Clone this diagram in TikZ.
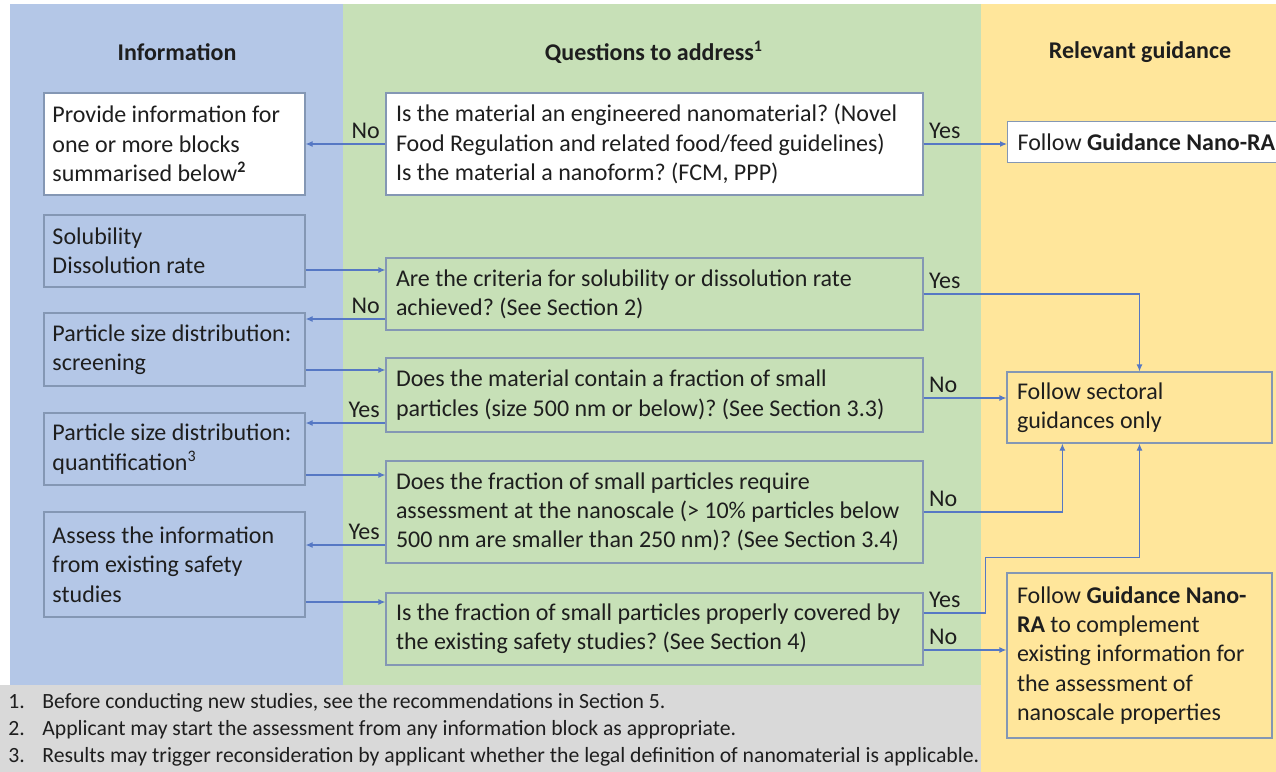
\documentclass[tikz,border=0pt]{standalone}
\usepackage{fontspec}
\setmainfont{Carlito}
\usetikzlibrary{positioning,arrows.meta}
\definecolor{infoblue}{RGB}{180,199,231}
\definecolor{askgreen}{RGB}{199,224,183}
\definecolor{guideyellow}{RGB}{255,230,155}
\definecolor{notegray}{RGB}{217,217,217}
\definecolor{boxline}{RGB}{132,151,180}
\definecolor{linkblue}{RGB}{86,120,196}
\definecolor{ink}{RGB}{30,30,30}

\begin{document}
\frenchspacing
\begin{tikzpicture}[x=0.5pt, y=-0.5pt,
    every node/.style={font=\fontsize{12}{14.65}\selectfont, text=ink},
    infobox/.style={rectangle, draw=boxline, line width=0.6pt, inner xsep=4.25pt, inner ysep=2pt, text width=122pt, align=flush left},
    askbox/.style={rectangle, draw=boxline, line width=0.6pt, inner xsep=5pt, inner ysep=2pt, text width=258.5pt, align=flush left},
    guidebox/.style={rectangle, draw=boxline, line width=0.6pt, inner xsep=5pt, inner ysep=2pt, text width=122.5pt, align=flush left},
    head/.style={font=\fontsize{12}{14.65}\selectfont\bfseries},
    answer/.style={inner xsep=2.5pt, inner ysep=2.5pt},
    link/.style={draw=linkblue, line width=0.6pt, -{Latex[length=3.5pt,width=3pt]}},
    note/.style={font=\fontsize{10.85}{13.5}\selectfont, anchor=west, inner xsep=0pt}]
    \clip (0,0) rectangle (1276,772);
    % column backgrounds
    \fill[white] (0,0) rectangle (1276,772);
    \fill[infoblue] (10,4) rectangle (343,685);
    \fill[askgreen] (343,4) rectangle (981,685);
    \fill[guideyellow] (981,4) rectangle (1276,772);
    \fill[notegray] (0,685) rectangle (981,772);

    \node[head] (hinfo) at (177,52) {Information};
    \node[head] (hask) at (654,52) {Questions to address\textsuperscript{1}};
    \node[head] (hguide) at (1140,52) {Relevant guidance};

    % information column
    \node[infobox, fill=white, minimum height=51pt] (provide) at (174.5,144) {Provide information for\\one or more blocks\\summarised below\textsuperscript{\textbf{2}}};
    \node[infobox, minimum height=36pt] (solub) at (174.5,251) {Solubility\\Dissolution rate};
    \node[infobox, minimum height=36.5pt] (screen) at (174.5,349.5) {Particle size distribution:\\screening};
    \node[infobox, minimum height=36pt] (quant) at (174.5,449) {Particle size distribution:\\quantification\textsuperscript{3}};
    \node[infobox, minimum height=52.5pt] (safety) at (174.5,564.5) {Assess the information\\from existing safety\\studies};

    % questions column
    \node[askbox, fill=white, minimum height=51pt] (qnano) at (654.5,144) {Is the material an engineered nanomaterial? (Novel\\Food Regulation and related food/feed guidelines)\\Is the material a nanoform? (FCM, PPP)};
    \node[askbox, minimum height=36pt] (qsolub) at (654.5,294) {Are the criteria for solubility or dissolution rate\\achieved? (See Section 2)};
    \node[askbox, minimum height=37pt] (qsmall) at (654.5,395) {Does the material contain a fraction of small\\particles (size 500 nm or below)? (See Section 3.3)};
    \node[askbox, minimum height=51pt] (qscale) at (654.5,512) {Does the fraction of small particles require\\assessment at the nanoscale (> 10\% particles below\\500 nm are smaller than 250 nm)? (See Section 3.4)};
    \node[askbox, minimum height=36pt] (qcover) at (654.5,629) {Is the fraction of small particles properly covered by\\the existing safety studies? (See Section 4)};

    % guidance column
    \node[guidebox, fill=white, text width=132.5pt, minimum height=20.5pt, anchor=west] (gnano) at (1007,142) {Follow \textbf{Guidance Nano-RA}};
    \node[guidebox, minimum height=35.5pt] (gsector) at (1139.5,407.5) {Follow sectoral\\guidances only};
    \node[guidebox, minimum height=82.5pt] (gcomplement) at (1139.5,655.5) {Follow \textbf{Guidance Nano-}\\\textbf{RA} to complement\\existing information for\\the assessment of\\nanoscale properties};

    % left links
    \draw[link] (qnano) -- node[answer, at start, above left] {No} (provide);
    \draw[link] ([yshift=-9.5pt]solub.east) -- ([yshift=-9.5pt]solub.east -| qsolub.west);
    \draw[link] ([yshift=-12.5pt]qsolub.west) -- node[answer, at start, above left] {No} ([yshift=-12.5pt]qsolub.west -| screen.east);
    \draw[link] ([yshift=-10.25pt]screen.east) -- ([yshift=-10.25pt]screen.east -| qsmall.west);
    \draw[link] ([yshift=-14pt]qsmall.west) -- node[answer, at start, above left] {Yes} ([yshift=-14pt]qsmall.west -| quant.east);
    \draw[link] ([yshift=-13pt]quant.east) -- ([yshift=-13pt]quant.east -| qscale.west);
    \draw[link] ([yshift=-16.5pt]qscale.west) -- node[answer, at start, above left] {Yes} ([yshift=-16.5pt]qscale.west -| safety.east);
    \draw[link] ([yshift=-18.75pt]safety.east) -- ([yshift=-18.75pt]safety.east -| qcover.west);

    % right links
    \draw[link] (qnano.east) -- node[answer, at start, above right] {Yes} (qnano.east -| gnano.west);
    \draw[link] (qsolub.east) -- node[answer, at start, above right] {Yes} (qsolub.east -| gsector.north) -- (gsector.north);
    \draw[link] ([yshift=-1.5pt]qsmall.east) -- node[answer, at start, above right] {No} ([yshift=-1.5pt]qsmall.east -| gsector.west);
    \draw[link] (qscale.east) -- node[answer, at start, above right] {No} ++(0,0) -| ([xshift=28pt]gsector.south west);
    \draw[link] ([yshift=8pt]qcover.east) -- node[answer, at start, above right] {Yes} ++(31pt,0) |- ([yshift=-57pt]gsector.south) -- (gsector.south);
    \draw[link] ([yshift=-10.5pt]qcover.east) -- node[answer, at start, above right] {No} ([yshift=-10.5pt]qcover.east -| gcomplement.west);

    % footnotes
    \node[note] (fn1) at (8,703) {\makebox[17pt][l]{1.}Before conducting new studies, see the recommendations in Section 5.};
    \node[note] (fn2) at (8,730) {\makebox[17pt][l]{2.}Applicant may start the assessment from any information block as appropriate.};
    \node[note] (fn3) at (8,757) {\makebox[17pt][l]{3.}Results may trigger reconsideration by applicant whether the legal definition of nanomaterial is applicable.};
\end{tikzpicture}
\end{document}
